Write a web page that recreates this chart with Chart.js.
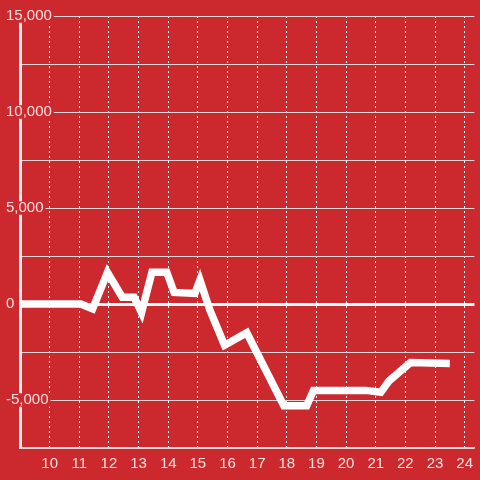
<!DOCTYPE html>
<html>
<head>
<meta charset="utf-8">
<script src="https://cdn.jsdelivr.net/npm/chart.js@4/dist/chart.umd.min.js"></script>
<style>
  html, body { margin: 0; padding: 0; background: #cc292e; }
  #wrap { width: 480px; height: 480px; }
</style>
</head>
<body>
<div id="wrap"><canvas id="c"></canvas></div>
<script>
// line chart on red, thick white trace, dotted verticals

const xValues = [8.9, 11.05, 11.45, 11.95, 12.45, 12.85, 13.1, 13.45, 13.95, 14.2, 14.9, 15.07,
  15.4, 15.9, 16.65, 17.9, 18.67, 18.9, 20.67, 21.17, 21.45, 22.17, 23.5];
const yValues = [0, 0, -250, 1650, 350, 350, -450, 1650, 1650, 600, 550, 1250,
  -300, -2150, -1500, -5300, -5300, -4500, -4500, -4600, -4000, -3050, -3100];
const xTicks = [10, 11, 12, 13, 14, 15, 16, 17, 18, 19, 20, 21, 22, 23, 24];
const yTicks = [-7500, -5000, -2500, 0, 2500, 5000, 7500, 10000, 12500, 15000];

const BG = '#cc292e';
const TEXT = 'rgba(255,240,240,0.92)';
const GRID = 'rgba(215,215,215,1)';
const FONT = "'Liberation Sans', Arial, sans-serif";

const points = xValues.map((x, i) => ({ x, y: yValues[i] }));

new Chart(document.getElementById('c'), {
  type: 'line',
  data: {
    datasets: [{
      data: points,
      borderColor: '#ffffff',
      borderWidth: 7.5,
      pointRadius: 0,
      tension: 0,
      borderJoinStyle: 'miter',
      borderCapStyle: 'butt',
    }]
  },
  options: {
    responsive: true, maintainAspectRatio: false,
    animation: false,
    layout: { padding: { left: 6, top: 16, right: 0, bottom: 0 } },
    plugins: { legend: { display: false }, tooltip: { enabled: false } },
    scales: {
      x: {
        type: 'linear', min: 9, max: 24.33,
        afterBuildTicks: s => { s.ticks = xTicks.map(v => ({ value: v })); },
        afterFit: s => { s.height = 32; },
        ticks: {
          color: TEXT, padding: 7, maxRotation: 0,
          font: { family: FONT, size: 15 },
        },
        grid: {
          color: '#ffffff', lineWidth: 1, drawTicks: false,
        },
        // border.dash also dashes the vertical grid lines
        border: { color: GRID, width: 1.5, dash: [2, 3] },
      },
      y: {
        min: -7500, max: 15000,
        afterBuildTicks: s => { s.ticks = yTicks.map(v => ({ value: v })); },
        afterFit: s => { s.width = 14; },
        ticks: {
          z: 1, mirror: true, padding: -14,
          color: TEXT,
          font: { family: FONT, size: 15, lineHeight: 0.9 },
          showLabelBackdrop: true, backdropColor: BG,
          backdropPadding: { left: 2, right: 2, top: 0, bottom: 0 },
          callback: v => (v % 5000 === 0 ? v.toLocaleString('en-US') : ''),
        },
        grid: {
          drawTicks: false,
          color: c => (c.tick && c.tick.value === 0 ? '#ffffff' : GRID),
          lineWidth: c => (c.tick && c.tick.value === 0 ? 3 : 1),
        },
        border: { color: '#f4eeee', width: 3 },
      },
    },
  },
});
</script>
</body>
</html>
